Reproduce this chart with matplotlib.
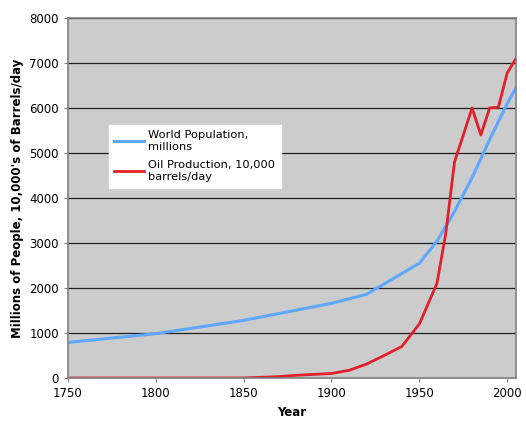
import matplotlib.pyplot as plt

# Data
pop_years = [1750, 1800, 1850, 1900, 1920, 1950, 1960, 1970, 1980, 1990, 2000, 2005]
population = [790, 985, 1280, 1660, 1860, 2550, 3040, 3700, 4450, 5300, 6100, 6450]

oil_years = [1750, 1800, 1850, 1860, 1870, 1880, 1890, 1900, 1910, 1920, 1930, 1940,
             1950, 1960, 1965, 1970, 1980, 1985, 1990, 1995, 2000, 2005]
oil = [0, 0, 0, 15, 30, 60, 80, 100, 170, 310, 500, 700,
       1200, 2100, 3200, 4800, 6000, 5400, 6000, 6020, 6780, 7100]

fig = plt.figure(figsize=(5.26, 4.26), dpi=100)
ax = fig.add_axes([0.129, 0.1127, 0.852, 0.845])
ax.set_facecolor("#cccccc")

ax.plot(pop_years, population, color="#5fa8ff", lw=2.2, label="World Population,\nmillions")
ax.plot(oil_years, oil, color="#e0202a", lw=2.0, label="Oil Production, 10,000\nbarrels/day")

ax.set_xlim(1750, 2005)
ax.set_ylim(0, 8000)
ax.set_xticks(range(1750, 2001, 50))
ax.set_yticks(range(0, 8001, 1000))
ax.yaxis.grid(True, color="#202020", lw=0.9)
ax.set_axisbelow(True)
ax.tick_params(labelsize=8.5, length=3, color="#808080")
for s in ax.spines.values():
    s.set_color("#808080")
    s.set_linewidth(1.2)

ax.set_xlabel("Year", fontsize=8.5, fontweight="bold")
ax.set_ylabel("Millions of People, 10,000's of Barrels/day", fontsize=8.5, fontweight="bold")

leg = ax.legend(loc="upper left", bbox_to_anchor=(0.078, 0.72), fontsize=8.2,
                frameon=True, fancybox=False, framealpha=1, edgecolor="white",
                handlelength=2.6, handletextpad=0.4, labelspacing=0.75, borderpad=0.5)

fig.savefig("out.png", dpi=100)
